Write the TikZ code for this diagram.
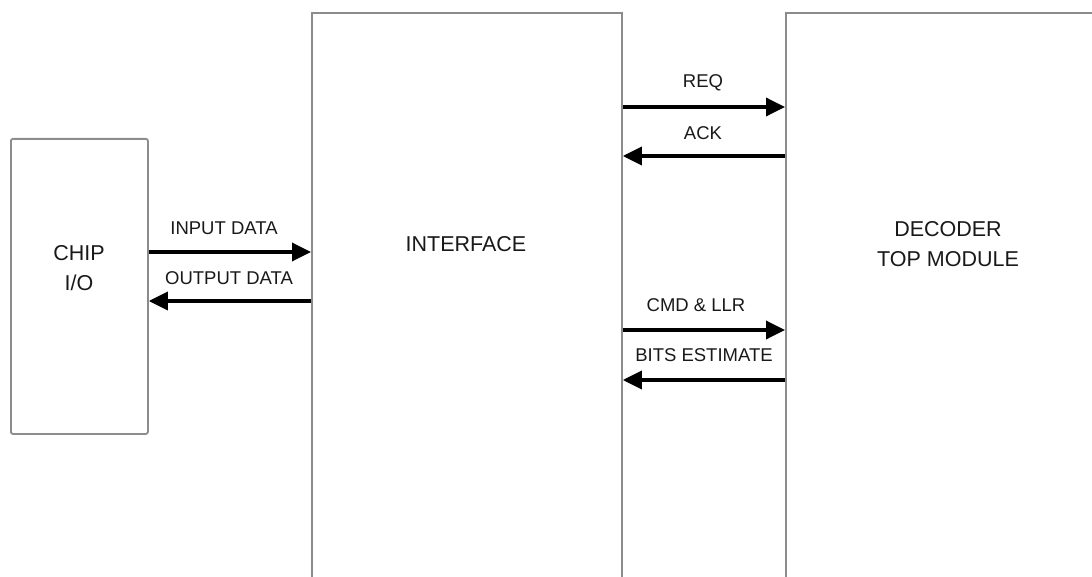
\documentclass[tikz,border=0pt]{standalone}
\usepackage{fontspec}
\setmainfont{Liberation Sans}
\usetikzlibrary{arrows.meta}
\definecolor{boxline}{RGB}{140,140,140}
\definecolor{ink}{RGB}{25,25,25}
\tikzset{
  block/.style={draw=boxline, line width=1.8pt, fill=white, inner sep=0pt, anchor=north west},
  sig/.style={line width=3.5pt, -{Triangle[length=19pt,width=18pt]}},
  lbl/.style={font=\fontsize{18.5}{20}\selectfont, text=ink, inner sep=0pt},
  big/.style={font=\fontsize{21.5}{30}\selectfont, text=ink, align=center, inner sep=0pt}
}
\begin{document}
\begin{tikzpicture}[x=1pt,y=-1pt]
\useasboundingbox (0,0) rectangle (1092,577);
\begin{scope}
\clip (0,0) rectangle (1092,577);
% blocks
\node[block, rounded corners=2pt, minimum width=137pt, minimum height=295pt] (chip) at (10,138) {};
\node[block, minimum width=310pt, minimum height=600pt] (iface) at (311,12) {};
\node[block, minimum width=330pt, minimum height=600pt] (dec) at (785,12) {};
\end{scope}
% block titles
\node[big] (chiptxt) at (79,268) {CHIP\\I/O};
\node[big] (ifacetxt) at (466,244) {INTERFACE};
\node[big] (dectxt) at (948,244) {DECODER\\TOP MODULE};
% chip <-> interface
\draw[sig] (chip.east |- 0,252) -- (iface.west |- 0,252);
\draw[sig] (iface.west |- 0,301) -- (chip.east |- 0,301);
\node[lbl] (inlbl) at (224,228) {INPUT DATA};
\node[lbl] (outlbl) at (229,278) {OUTPUT DATA};
% interface <-> decoder
\draw[sig] (iface.east |- 0,107) -- (dec.west |- 0,107);
\draw[sig] (dec.west |- 0,156) -- (iface.east |- 0,156);
\draw[sig] (iface.east |- 0,330) -- (dec.west |- 0,330);
\draw[sig] (dec.west |- 0,380) -- (iface.east |- 0,380);
\node[lbl] (reqlbl) at (703,83) {REQ};
\node[lbl] (acklbl) at (703,133) {ACK};
\node[lbl] (cmdlbl) at (696,305) {CMD \& LLR};
\node[lbl] (bitslbl) at (704,355) {BITS ESTIMATE};
\end{tikzpicture}
\end{document}
